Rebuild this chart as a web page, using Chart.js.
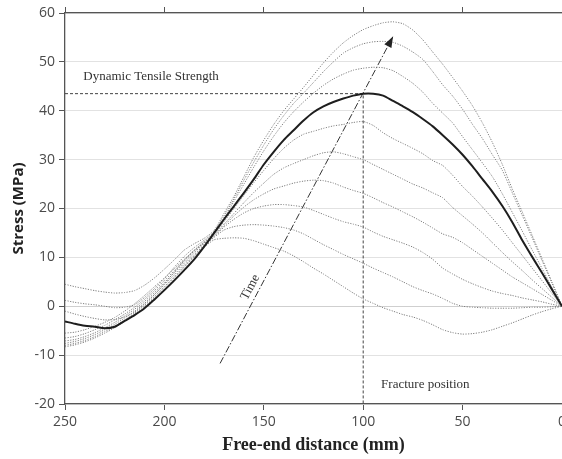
<!DOCTYPE html>
<html>
<head>
<meta charset="utf-8">
<script src="https://cdn.jsdelivr.net/npm/chart.js@4.4.0/dist/chart.umd.min.js"></script>
<style>
  html, body { margin: 0; padding: 0; background: #fff; }
  #wrap { width: 562px; height: 459px; position: relative; }
</style>
</head>
<body>
<div id="wrap"><canvas id="chart"></canvas></div>
<script>
// free-end distance (mm), read left to right as in the figure
const distances = [250, 245, 240, 235, 230, 225, 220, 215, 210, 205,
  200, 195, 190, 185, 180, 175, 170, 165, 160, 155,
  150, 145, 140, 135, 130, 125, 120, 115, 110, 105,
  100, 95, 90, 85, 80, 75, 70, 65, 60, 55,
  50, 45, 40, 35, 30, 25, 20, 15, 10, 5, 0];

// stress profiles (MPa), earliest (I) to latest (A); "fracture" is the bold one
const stressI = [-8.3, -7.9, -7.3, -6.5, -5.5, -4.4, -3.1, -1.7, -0.1, 1.7,
  3.7, 5.8, 8.0, 10.1, 12.1, 13.6, 13.9, 14.0, 13.9, 13.4,
  12.7, 12.0, 11.3, 10.3, 9.1, 7.8, 6.6, 5.3, 4.0, 2.7,
  1.5, 0.6, -0.3, -1.0, -1.7, -2.2, -2.9, -3.8, -4.8, -5.4,
  -5.7, -5.6, -5.3, -4.8, -4.1, -3.4, -2.6, -1.8, -1.1, -0.5, 0];
const stressH = [-8.0, -7.6, -7.0, -6.2, -5.2, -4.1, -2.8, -1.4, 0.2, 2.0,
  4.0, 6.1, 8.2, 10.3, 12.3, 14.1, 15.6, 16.3, 16.6, 16.7,
  16.6, 16.4, 16.1, 15.6, 14.8, 13.7, 12.6, 11.6, 10.6, 9.7,
  8.8, 7.8, 6.9, 6.0, 5.0, 4.0, 3.2, 2.5, 1.6, 0.6,
  0.0, -0.2, -0.3, -0.4, -0.4, -0.4, -0.3, -0.2, -0.2, -0.1, 0];
const stressG = [-7.6, -7.2, -6.6, -5.8, -4.8, -3.7, -2.4, -1.0, 0.6, 2.4,
  4.4, 6.5, 8.6, 10.6, 12.5, 14.3, 16.2, 17.8, 19.1, 20.0,
  20.5, 20.8, 20.8, 20.6, 20.3, 19.6, 18.8, 18.0, 17.3, 16.8,
  16.2, 15.2, 14.3, 13.6, 12.9, 12.1, 11.0, 9.6, 7.8, 6.6,
  5.5, 4.6, 3.8, 3.1, 2.6, 2.2, 1.7, 1.3, 0.9, 0.4, 0];
const stressF = [-7.1, -6.8, -6.2, -5.4, -4.4, -3.3, -2.0, -0.6, 1.0, 2.8,
  4.8, 6.9, 9.0, 11.0, 12.8, 14.5, 16.5, 18.5, 20.3, 21.8,
  23.0, 24.0, 24.6, 25.2, 25.6, 25.8, 25.7, 25.2, 24.4, 23.7,
  23.1, 22.2, 21.2, 20.3, 19.3, 18.3, 17.2, 16.0, 14.8, 14.1,
  13.0, 11.6, 10.2, 8.8, 7.4, 6.0, 4.8, 3.6, 2.4, 1.2, 0];
const stressE = [-6.5, -6.2, -5.6, -4.8, -3.9, -2.8, -1.6, -0.2, 1.4, 3.2,
  5.2, 7.3, 9.4, 11.3, 13.0, 14.7, 16.8, 19.0, 21.2, 23.3,
  25.2, 27.0, 28.3, 29.2, 30.0, 30.8, 31.4, 31.6, 31.2, 30.6,
  30.0, 29.0, 28.0, 27.0, 26.0, 25.0, 24.2, 23.2, 22.2, 20.2,
  18.5, 16.8, 15.0, 13.0, 11.0, 9.1, 7.3, 5.4, 3.6, 1.8, 0];
const stressD = [-5.5, -5.3, -4.8, -4.1, -3.3, -2.3, -1.0, 0.5, 2.2, 4.0,
  5.8, 7.7, 9.6, 11.4, 13.0, 14.8, 17.3, 20.0, 22.7, 25.3,
  27.8, 30.2, 32.3, 34.0, 35.2, 35.8, 36.4, 36.9, 37.2, 37.6,
  37.8, 37.0, 35.5, 34.3, 33.3, 32.3, 31.2, 29.8, 28.8, 26.8,
  24.5, 22.5, 20.3, 18.0, 15.6, 13.0, 10.4, 7.8, 5.2, 2.6, 0];
const stressFracture = [-3.1, -3.6, -4.0, -4.2, -4.5, -4.2, -3.0, -1.8, -0.4, 1.4,
  3.3, 5.3, 7.4, 9.6, 12.2, 15.0, 17.8, 20.5, 23.2, 26.0,
  29.0, 31.6, 34.0, 36.0, 38.0, 39.7, 40.9, 41.8, 42.5, 43.1,
  43.5, 43.5, 43.1, 42.0, 40.9, 39.7, 38.3, 36.8, 35.0, 33.1,
  31.0, 28.6, 26.0, 23.4, 20.5, 17.2, 13.5, 10.1, 6.8, 3.4, 0];
const stressC = [-1.0, -1.6, -2.1, -2.5, -2.8, -2.7, -2.2, -1.2, 0.5, 2.4,
  4.6, 7.0, 9.4, 11.5, 13.2, 15.0, 18.0, 21.5, 25.0, 28.5,
  31.8, 34.8, 37.5, 39.8, 41.8, 43.6, 45.2, 46.5, 47.5, 48.3,
  48.7, 48.9, 48.8, 48.2, 47.0, 45.6, 43.8, 41.5, 39.5, 37.5,
  34.7, 32.0, 29.3, 26.5, 23.0, 19.2, 15.4, 11.5, 7.7, 3.8, 0];
const stressB = [1.2, 0.8, 0.5, 0.3, 0.0, -0.3, -0.2, 0.3, 1.8, 3.6,
  5.6, 8.0, 10.2, 12.0, 13.5, 15.2, 18.5, 22.0, 25.8, 29.5,
  33.0, 36.2, 39.0, 41.5, 43.6, 45.8, 48.0, 50.0, 51.8, 52.9,
  53.7, 54.1, 54.2, 54.0, 53.2, 52.0, 50.5, 48.0, 45.3, 43.0,
  40.3, 37.2, 34.3, 31.0, 27.8, 23.2, 18.6, 14.0, 9.3, 4.7, 0];
const stressA = [4.5, 4.0, 3.6, 3.2, 2.9, 2.7, 2.8, 3.2, 4.3, 5.8,
  7.6, 9.5, 11.5, 12.8, 13.9, 15.5, 19.0, 22.5, 26.5, 30.5,
  34.0, 37.2, 40.0, 42.4, 44.8, 47.3, 49.8, 52.0, 53.9, 55.4,
  56.6, 57.4, 58.0, 58.2, 57.8, 56.5, 54.5, 52.0, 49.5, 46.8,
  44.0, 41.0, 37.5, 33.5, 29.0, 24.0, 19.3, 14.5, 9.7, 4.9, 0];

const dottedSeries = [stressA, stressB, stressC, stressD, stressE, stressF, stressG, stressH, stressI];

// reference marks
const strengthLevel = 43.5;
const fracturePosition = 100;
const timeArrowStart = [172, -11.7];
const timeArrowEnd = [85, 55.2];

const toPoints = values => distances.map((d, i) => ({ x: d, y: values[i] }));

const datasets = [
  {
    data: toPoints(stressFracture),
    borderColor: '#1e1e1e', borderWidth: 2, tension: 0.25
  },
  ...dottedSeries.map(s => ({
    data: toPoints(s),
    borderColor: '#808080', borderWidth: 1, borderDash: [1.2, 1.4], tension: 0.2
  })),
  {
    data: [{ x: distances[0], y: strengthLevel }, { x: fracturePosition, y: strengthLevel }, { x: fracturePosition, y: -20 }],
    borderColor: '#444', borderWidth: 1, borderDash: [3, 2]
  },
  {
    data: [{ x: timeArrowStart[0], y: timeArrowStart[1] }, { x: timeArrowEnd[0], y: timeArrowEnd[1] }],
    borderColor: '#333', borderWidth: 1, borderDash: [7, 2, 1.5, 2]
  }
];

const annotate = {
  id: 'annotate',
  afterDatasetsDraw(chart) {
    const { ctx, scales: { x, y } } = chart;
    const x0 = x.getPixelForValue(timeArrowStart[0]), y0 = y.getPixelForValue(timeArrowStart[1]);
    const x1 = x.getPixelForValue(timeArrowEnd[0]), y1 = y.getPixelForValue(timeArrowEnd[1]);
    const ang = Math.atan2(y1 - y0, x1 - x0);
    const c = Math.cos(ang), s = Math.sin(ang);
    ctx.save();
    ctx.fillStyle = '#222';
    ctx.beginPath();
    ctx.moveTo(x1, y1);
    ctx.lineTo(x1 - 11 * c + 4 * s, y1 - 11 * s - 4 * c);
    ctx.lineTo(x1 - 11 * c - 4 * s, y1 - 11 * s + 4 * c);
    ctx.closePath();
    ctx.fill();

    ctx.font = '13px "Liberation Serif"';
    ctx.fillStyle = '#333';
    ctx.textBaseline = 'middle';
    ctx.fillText('Dynamic Tensile Strength', x.getPixelForValue(240.8), y.getPixelForValue(47));
    ctx.fillText('Fracture position', x.getPixelForValue(91), y.getPixelForValue(-16.1));

    ctx.translate(x.getPixelForValue(156.8), y.getPixelForValue(3.9));
    ctx.rotate(ang);
    ctx.textAlign = 'center';
    ctx.fillText('Time', 0, 0);
    ctx.restore();
  }
};

new Chart(document.getElementById('chart'), {
  type: 'line',
  data: { datasets },
  plugins: [annotate],
  options: {
    responsive: true,
    maintainAspectRatio: false,
    animation: false,
    layout: { padding: 0 },
    elements: { point: { radius: 0 } },
    plugins: { legend: { display: false }, tooltip: { enabled: false } },
    scales: {
      x: {
        type: 'linear', reverse: true, min: 0, max: 250,
        ticks: { stepSize: 50, color: '#4a4a4a', font: { family: 'Open Sans', size: 14 }, padding: 4 },
        grid: { drawOnChartArea: false, tickLength: 6, tickColor: '#555' },
        border: { color: '#555', width: 1.3 },
        title: {
          display: true, text: 'Free-end distance (mm)', color: '#222',
          font: { family: 'Liberation Serif', size: 18, weight: 'bold' },
          padding: { top: 0, bottom: 3 }
        },
        afterFit: s => { s.height = 55; s.paddingLeft = 0; s.paddingRight = 0; }
      },
      x2: {
        type: 'linear', position: 'top', reverse: true, min: 0, max: 250,
        ticks: { stepSize: 50, display: false },
        grid: { drawOnChartArea: false, tickLength: 6, tickColor: '#555' },
        border: { color: '#555', width: 1.3 },
        afterFit: s => { s.height = 13; s.paddingLeft = 0; s.paddingRight = 0; }
      },
      y: {
        min: -20, max: 60,
        ticks: { stepSize: 10, color: '#4a4a4a', font: { family: 'Open Sans', size: 14 }, padding: 4 },
        grid: {
          color: ctx => ctx.tick.value === 0 ? '#cfcfcf' : '#e2e2e2',
          tickLength: 6, tickColor: '#555'
        },
        border: { color: '#555', width: 1.3 },
        title: {
          display: true, text: 'Stress (MPa)', color: '#222',
          font: { family: 'Open Sans', size: 15, weight: 'bold' },
          padding: { top: 10, bottom: 0 }
        },
        afterFit: s => { s.width = 65; s.paddingTop = 0; s.paddingBottom = 0; }
      }
    }
  }
});
</script>
</body>
</html>
